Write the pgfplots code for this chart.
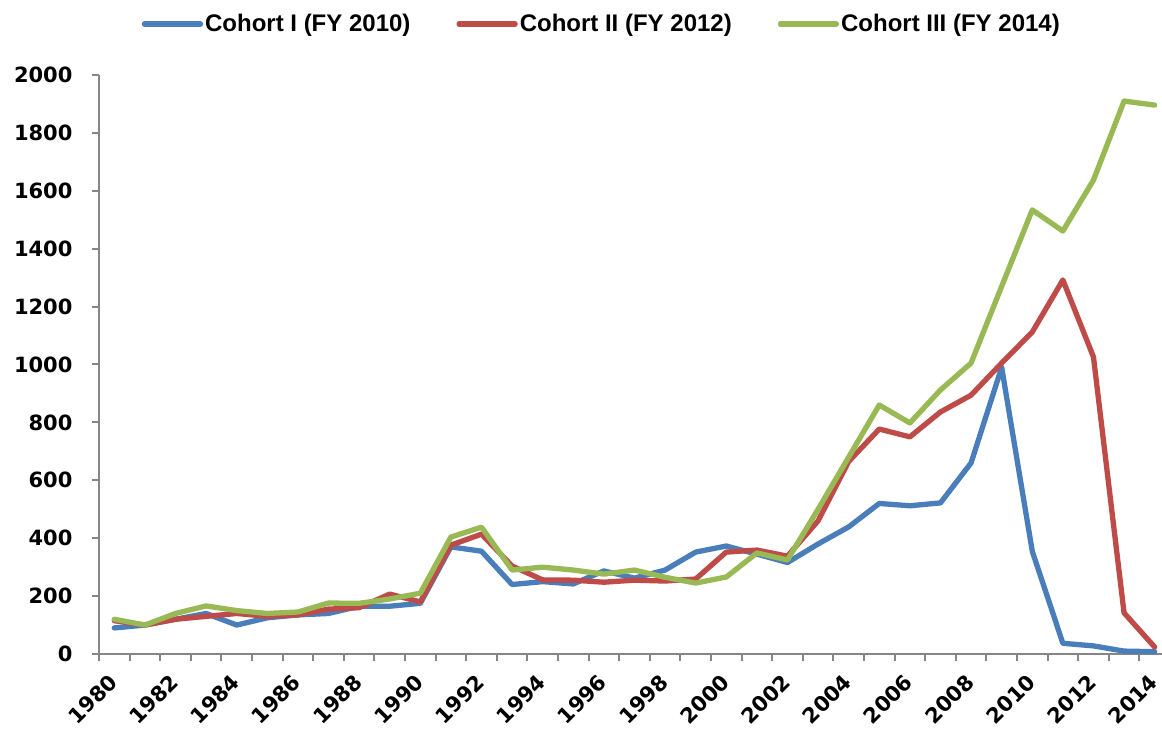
\documentclass[border=0pt]{standalone}
\usepackage{fontspec}
\setmainfont{Liberation Sans}
\newfontfamily\tickfont{DejaVu Sans}
\usepackage{pgfplots}
\pgfplotsset{compat=1.18}
\definecolor{cblue}{HTML}{4A7EBB}
\definecolor{cred}{HTML}{BE4B48}
\definecolor{cgreen}{HTML}{98B954}
\definecolor{axisgray}{HTML}{868686}

\begin{document}
\begin{tikzpicture}
\begin{axis}[
    name=ax,
    scale only axis,
    width=1063pt, height=579pt,
    xmin=-0.5, xmax=34.24,
    ymin=0, ymax=2000,
    axis x line=bottom, axis y line=left,
    axis line style={-, draw=axisgray, line width=2pt},
    tick align=outside,
    major tick length=7pt, minor tick length=7pt,
    tick style={axisgray, line width=2pt},
    major x tick style={draw=none},
    xtick={0,2,...,34},
    xticklabels={1980,1982,1984,1986,1988,1990,1992,1994,1996,1998,2000,2002,2004,2006,2008,2010,2012,2014},
    minor xtick={-0.5,0.5,...,33.5},
    ytick={0,200,...,2000},
    /pgf/number format/1000 sep={},
    /pgf/number format/assume math mode=true,
    ticklabel style={font=\tickfont\fontsize{21}{21}\selectfont\bfseries},
    yticklabel style={xshift=-16pt},
    xticklabel style={xshift=1.5pt, yshift=-15pt, rotate=45, anchor=east},
    legend style={at={(axis description cs:0.473,1.088)}, anchor=center,
        draw=none, fill=none, legend columns=3,
        font=\fontsize{24}{24}\selectfont\bfseries,
        /tikz/every even column/.append style={column sep=44pt},
        inner sep=0pt},
    legend image code/.code={\draw[#1] (0pt,0pt) -- (56pt,0pt);},
    every axis plot/.append style={line width=5.3pt, line join=round, line cap=round, mark=none},
]
% Cohort I (FY 2010)
\addplot[cblue] coordinates {
(0,90) (1,100) (2,120) (3,140) (4,100) (5,125) (6,135) (7,140) (8,165) (9,165)
(10,175) (11,370) (12,355) (13,240) (14,250) (15,242) (16,287) (17,262) (18,290) (19,352)
(20,373) (21,345) (22,316) (23,380) (24,439) (25,520) (26,512) (27,522) (28,660) (29,990)
(30,355) (31,37) (32,28) (33,10) (34,8)
}; \addlegendentry{Cohort I (FY 2010)}
% Cohort II (FY 2012)
\addplot[cred] coordinates {
(0,115) (1,100) (2,120) (3,130) (4,140) (5,130) (6,135) (7,155) (8,160) (9,207)
(10,180) (11,376) (12,414) (13,304) (14,256) (15,255) (16,248) (17,255) (18,252) (19,259)
(20,352) (21,359) (22,338) (23,460) (24,665) (25,777) (26,750) (27,836) (28,894) (29,1005)
(30,1112) (31,1292) (32,1026) (33,142) (34,24)
}; \addlegendentry{Cohort II (FY 2012)}
% Cohort III (FY 2014)
\addplot[cgreen] coordinates {
(0,120) (1,100) (2,140) (3,166) (4,150) (5,140) (6,145) (7,176) (8,175) (9,190)
(10,210) (11,404) (12,438) (13,290) (14,300) (15,290) (16,276) (17,290) (18,265) (19,245)
(20,266) (21,349) (22,325) (23,500) (24,680) (25,860) (26,798) (27,912) (28,1005) (29,1270)
(30,1534) (31,1461) (32,1637) (33,1910) (34,1896)
}; \addlegendentry{Cohort III (FY 2014)}
\end{axis}
\pgfresetboundingbox
\path[use as bounding box] ([xshift=-99pt,yshift=-76pt]ax.south west) rectangle ([yshift=75pt]ax.north east);
\end{tikzpicture}
\end{document}
